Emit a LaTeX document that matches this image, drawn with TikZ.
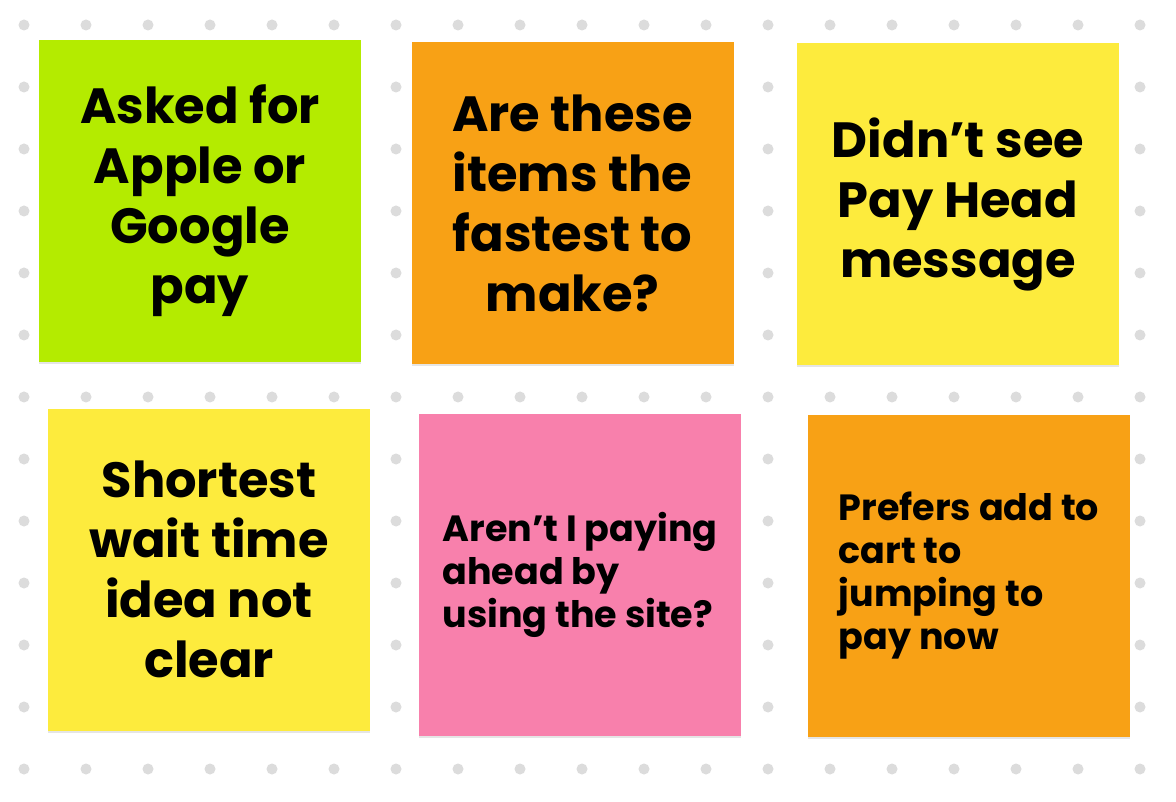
\documentclass[tikz,border=0pt]{standalone}
\usepackage{fontspec}
\setmainfont{Poppins}
\usepackage{xcolor}
\usetikzlibrary{shadows}
\definecolor{notegreen}{HTML}{B4EB00}
\definecolor{noteorange}{HTML}{F8A115}
\definecolor{noteyellow}{HTML}{FDEB3D}
\definecolor{notepink}{HTML}{F880AC}
\definecolor{dotgray}{HTML}{DCDCDC}
\tikzset{
  note/.style={minimum width=322, minimum height=322, inner sep=0pt,
    drop shadow={shadow xshift=0pt, shadow yshift=-2pt, opacity=0.2}},
  bigtext/.style={align=center, font=\bfseries\fontsize{49.5}{60}\selectfont},
  smalltext/.style={align=left, font=\bfseries\fontsize{36.5}{43}\selectfont}
}
\begin{document}
\begin{tikzpicture}[x=1pt, y=-1pt]
        % Hintergrund
        \fill[white] (0,0) rectangle (1176,802);
        \useasboundingbox (0,0) rectangle (1176,802);
        % Punktraster
        \foreach \i in {0,...,18}
          \foreach \j in {0,...,12}
            \fill[dotgray] (24+62*\i, 25+62*\j) circle[radius=5.5pt];
        % Obere Reihe
        \node[note, fill=notegreen, bigtext] (applepay) at (200,201)
          {Asked for\\Apple or\\Google\\pay};
        \node[note, fill=noteorange, bigtext] (fastest) at (572.5,203.5)
          {Are these\\items the\\fastest to\\make?};
        \node[note, fill=noteyellow, bigtext] (payhead) at (958,204)
          {Didn’t see\\Pay Head\\message};
        % Untere Reihe
        \node[note, fill=noteyellow, bigtext] (waittime) at (209,569.5)
          {Shortest\\wait time\\idea not\\clear};
        \node[note, fill=notepink, smalltext] (payahead) at (580,575)
          {Aren’t I paying\\ahead by\\using the site?};
        \node[note, fill=noteorange, smalltext] (addcart) at (969,576)
          {Prefers add to\\cart to\\jumping to\\pay now};
      \end{tikzpicture}
\end{document}
